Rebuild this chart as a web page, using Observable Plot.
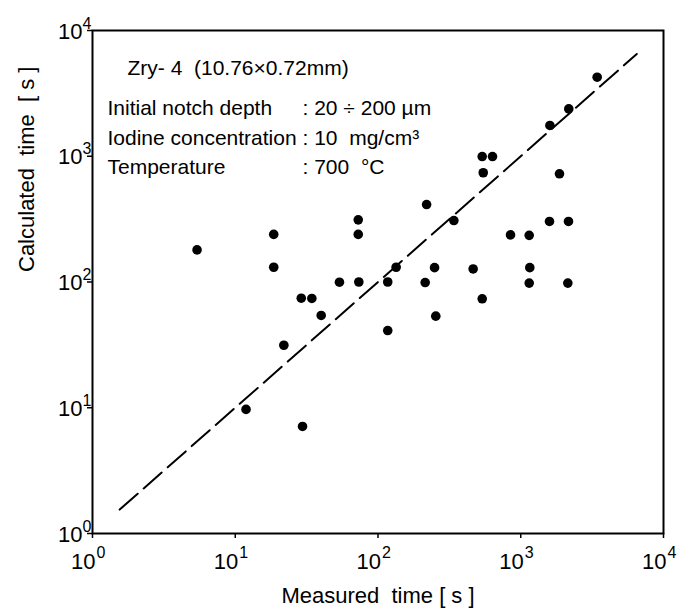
<!DOCTYPE html>
<html><head><meta charset="utf-8">
<script src="https://cdn.jsdelivr.net/npm/d3@7"></script>
<script src="https://cdn.jsdelivr.net/npm/@observablehq/plot@0.6"></script>
<style>html,body{margin:0;padding:0;background:#fff} svg{display:block}</style>
</head><body><div id="chart"></div>
<script>
// Measured vs calculated failure time (s), log-log
const measured   = [5.4, 18.6, 18.6, 21.9, 11.9, 29.6, 29, 34.4, 40, 53.7, 72.7, 72.7, 73.4, 117, 117, 134, 219, 214, 249, 254, 340, 464, 537, 537, 634, 546, 848, 1146, 1157, 1146, 1600, 1590, 1868, 2170, 2160, 2137, 3430];
const calculated = [180, 239, 131, 31.4, 9.7, 7.1, 74.3, 74, 54.2, 99.6, 312, 239, 100, 100, 41.1, 131, 413, 99, 130, 53.5, 308, 127, 73.5, 995, 995, 739, 237, 235, 130, 98, 1757, 303, 725, 2380, 303, 98, 4250];
// dashed reference line (calculated = measured)
const lineX = [1.55, 6500];
const lineY = [1.55, 6500];
// axis ticks
const tickValues = [1, 10, 100, 1000, 10000];
const tickExponents = ["0", "1", "2", "3", "4"];
// annotation text
const titleNote = "Zry- 4  (10.76×0.72mm)";
const noteLabels = ["Initial notch depth", "Iodine concentration", "Temperature"];
const noteValues = [": 20 ÷ 200 µm", ": 10  mg/cm³", ": 700  °C"];
const xTitle = "Measured  time [ s ]";
const yTitle = "Calculated  time  [ s ]";

const font = "'Liberation Sans', Arial, sans-serif";
const chart = Plot.plot({
  width: 686, height: 610,
  marginLeft: 92, marginRight: 23, marginTop: 30, marginBottom: 77,
  x: {type: "log", domain: [1, 1e4]},
  y: {type: "log", domain: [1, 1e4]},
  style: {fontFamily: font, background: "white", color: "black"},
  marks: [
    Plot.axisX({ticks: tickValues, tickFormat: () => "", tickSize: 5, label: null, strokeWidth: 1.5}),
    Plot.axisY({ticks: tickValues, tickFormat: () => "", tickSize: 5, label: null, strokeWidth: 1.5}),
    Plot.frame({stroke: "black", strokeWidth: 2}),
    // x tick labels
    Plot.text(tickValues, {x: d => d, frameAnchor: "bottom", text: () => "10", textAnchor: "end", lineAnchor: "bottom", dx: 3, dy: 35, fontSize: 22}),
    Plot.text(tickValues, {x: d => d, frameAnchor: "bottom", text: (d, i) => tickExponents[i], textAnchor: "start", lineAnchor: "bottom", dx: 4, dy: 24, fontSize: 16}),
    // y tick labels
    Plot.text(tickValues, {y: d => d, frameAnchor: "left", text: () => "10", textAnchor: "end", lineAnchor: "bottom", dx: -10, dy: 8, fontSize: 22}),
    Plot.text(tickValues, {y: d => d, frameAnchor: "left", text: (d, i) => tickExponents[i], textAnchor: "start", lineAnchor: "bottom", dx: -10, dy: -2, fontSize: 16}),
    // axis titles
    Plot.text([xTitle], {frameAnchor: "bottom", lineAnchor: "bottom", dy: 69, fontSize: 22}),
    Plot.text([yTitle], {frameAnchor: "left", lineAnchor: "bottom", rotate: -90, dx: -59, dy: -10, fontSize: 22}),
    // dashed line
    Plot.line(lineX, {x: lineX, y: lineY, stroke: "black", strokeWidth: 2, strokeDasharray: "24,8"}),
    // data points
    Plot.dot(measured, {x: measured, y: calculated, r: 4.8, fill: "black", stroke: "none"}),
    // annotation
    Plot.text([titleNote], {frameAnchor: "top-left", textAnchor: "start", lineAnchor: "bottom", dx: 35, dy: 44, fontSize: 21}),
    Plot.text([noteLabels.join("\n")], {frameAnchor: "top-left", textAnchor: "start", lineAnchor: "top", lineHeight: 1.4, dx: 15, dy: 64, fontSize: 21}),
    Plot.text([noteValues.join("\n")], {frameAnchor: "top-left", textAnchor: "start", lineAnchor: "top", lineHeight: 1.4, dx: 210, dy: 64, fontSize: 21})
  ]
});
document.getElementById("chart").appendChild(chart);
</script>
</body></html>
